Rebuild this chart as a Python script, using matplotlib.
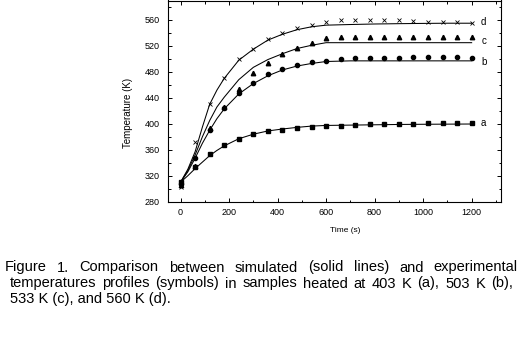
import matplotlib
matplotlib.use('Agg')
import matplotlib.pyplot as plt
from matplotlib.ticker import MultipleLocator
from matplotlib.transforms import IdentityTransform

plt.rcParams['font.family'] = ['Liberation Sans', 'DejaVu Sans']

# ---------------- data ----------------
# experimental (symbols)
t_exp = [0, 60, 120, 180, 240, 300, 360, 420, 480, 540, 600,
         660, 720, 780, 840, 900, 960, 1020, 1080, 1140, 1200]
exp_a = [310, 333, 353, 367, 377, 384, 388.5, 391, 393, 395.6, 396.7,
         397.2, 397.8, 399.3, 399.3, 399.3, 399.3, 400.8, 400.8, 400.8, 400.8]
exp_b = [308, 347, 391, 424, 447, 463, 476, 485, 490, 495, 497,
         500, 501, 502, 502, 502, 503.5, 502.7, 502.7, 502.7, 502]
exp_c = [305, 335, 393, 426, 454, 479, 494, 508, 517, 524, 532,
         533, 533, 533, 533, 533, 533, 533, 533, 533, 533]
exp_d = [303, 372, 430, 470, 500, 516, 530, 540, 547, 553, 557,
         560, 560, 560, 560, 560, 559, 557.5, 557.5, 557.5, 556]

# simulated (solid lines)
t_sim = [0, 30, 60, 90, 120, 150, 180, 240, 300, 360, 420, 480, 540, 600,
         700, 800, 900, 1000, 1100, 1200]
sim_a = [310, 320, 331, 341, 351, 359, 366, 377, 384, 389, 392, 394.5, 396.5, 397.5,
         398, 398.5, 399, 399.3, 399.5, 399.7]
sim_b = [310, 326, 347, 370, 390, 408, 423, 446, 462, 474, 483, 489, 493, 496,
         497, 497, 497, 497, 497, 497]
sim_c = [310, 328, 352, 380, 405, 426, 441, 468, 487, 499, 508, 516, 521, 525,
         525, 525, 525, 525, 525, 525]
sim_d = [310, 330, 357, 395, 430, 452, 470, 498, 515, 529, 538, 545, 549.5, 552,
         553, 553.8, 554.3, 554.7, 555, 555]

curve_labels = ['a', 'b', 'c', 'd']

x_ticks = [0, 200, 400, 600, 800, 1000, 1200]
y_ticks = [280, 320, 360, 400, 440, 480, 520, 560]

xlabel = 'Time (s)'
ylabel = 'Temperature (K)'
caption1 = 'Figure 1. Comparison between simulated (solid lines) and experimental'
caption2 = 'temperatures profiles (symbols) in samples heated at 403 K (a), 503 K (b),'
caption3 = '533 K (c), and 560 K (d).'

# ---------------- figure ----------------
W, H = 522, 350
fig = plt.figure(figsize=(W / 100, H / 100), dpi=100)
fig.patch.set_facecolor('white')

ax_l, ax_r, ax_t, ax_b = 167.7, 501, 0.5, 201.7
ax = fig.add_axes([ax_l / W, 1 - ax_b / H, (ax_r - ax_l) / W, (ax_b - ax_t) / H])

lw = 0.75
for s in (sim_a, sim_b, sim_c, sim_d):
    ax.plot(t_sim, s, color='black', lw=lw, zorder=2)

ax.plot(t_exp, exp_a, ls='none', marker='s', ms=2.8, color='black', zorder=3)
ax.plot(t_exp, exp_b, ls='none', marker='o', ms=3.0, color='black', zorder=3)
ax.plot(t_exp, exp_c, ls='none', marker='^', ms=3.2, color='black', zorder=3)
ax.plot(t_exp, exp_d, ls='none', marker='x', ms=3.2, mew=0.6, color='black', zorder=3)

label_x = 1250
label_y = [400.8, 496, 528, 557.4]
for lab, ly in zip(curve_labels, label_y):
    ax.text(label_x, ly, lab, ha='center', va='center', fontsize=7)

ax.set_xlim(-53, 1321)
ax.set_ylim(280, 590)
ax.set_xticks(x_ticks)
ax.set_yticks(y_ticks)
ax.xaxis.set_minor_locator(MultipleLocator(100))
ax.yaxis.set_minor_locator(MultipleLocator(20))
ax.tick_params(which='both', direction='in', top=True, right=True, width=0.7)
ax.tick_params(which='major', length=3.0, labelsize=6.5)
ax.tick_params(axis='x', which='major', pad=4.5)
ax.tick_params(axis='y', which='major', pad=5.5)
ax.tick_params(which='minor', length=1.8)
for sp in ax.spines.values():
    sp.set_linewidth(0.8)

fig.text(345 / W, 1 - 230 / H, xlabel, ha='center', va='center', fontsize=6)
fig.text(128 / W, 1 - 113 / H, ylabel, ha='center', va='center', rotation=90, fontsize=7)

# ---------------- caption (justified like the reference) ----------------
cap_fs = 10.5
fig.canvas.draw()
renderer = fig.canvas.get_renderer()


def justify(line, x0, x1, baseline):
    words = line.split()
    texts = [fig.text(0, H - baseline, w, transform=IdentityTransform(),
                      fontsize=cap_fs, va='baseline', ha='left') for w in words]
    widths = [t.get_window_extent(renderer).width for t in texts]
    gap = (x1 - x0 - sum(widths)) / (len(words) - 1)
    x = x0
    for t, w in zip(texts, widths):
        t.set_x(x)
        x += w + gap


justify(caption1, 5, 518, 271.5)
justify(caption2, 9.5, 513, 287.5)
fig.text(10, H - 303.5, caption3, transform=IdentityTransform(),
         fontsize=cap_fs, va='baseline', ha='left')

fig.savefig('out.png', dpi=100)
